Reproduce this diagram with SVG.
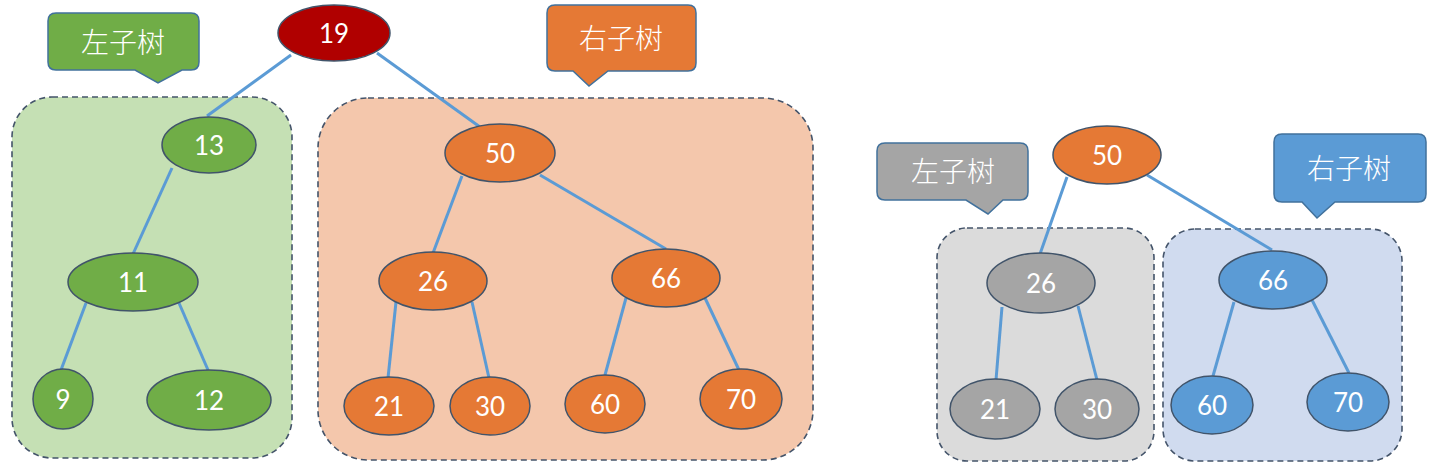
<svg xmlns="http://www.w3.org/2000/svg" width="1437" height="470" viewBox="0 0 1437 470">
<style>
.box{stroke:#44546A;stroke-width:1.6;stroke-dasharray:6 4}
.call{stroke:#41719C;stroke-width:1.5}
.edge{stroke:#5B9BD5;stroke-width:3;fill:none}
.n{stroke:#41546A;stroke-width:1.5}
.g{fill:#70AD47}.o{fill:#E57935}.r{fill:#B00000}.gr{fill:#A5A5A5}.b{fill:#5B9BD5}
.t{font-family:Lato,"Liberation Sans",sans-serif;font-size:26px;fill:#fff;text-anchor:middle;dominant-baseline:central}
.ct{font-family:"Noto Sans CJK SC",sans-serif;font-weight:300;font-size:28px;fill:#fff;text-anchor:middle;dominant-baseline:central}
</style>
<rect width="1437" height="470" fill="#fff"/>
<g id="boxes">
<rect class="box" x="12" y="97" width="280" height="361" rx="40" fill="#C5E0B4"/>
<rect class="box" x="318" y="98" width="495" height="362" rx="50" fill="#F4C7AC"/>
<rect class="box" x="937" y="228" width="217" height="233" rx="30" fill="#DBDBDB"/>
<rect class="box" x="1163" y="229" width="239" height="232" rx="32" fill="#D0DBEF"/>
</g>
<g id="callout-left1">
<path class="call" fill="#70AD47" d="M56,13 H191 Q199,13 199,21 V62 Q199,70 191,70 H182 L158,83 L135,70 H56 Q48,70 48,62 V21 Q48,13 56,13 Z"/>
<text class="ct" x="123" y="41">左子树</text>
</g>
<g id="callout-right1">
<path class="call" fill="#E57935" d="M555,5 H688 Q696,5 696,13 V63 Q696,71 688,71 H608 L589,86 L573,71 H555 Q547,71 547,63 V13 Q547,5 555,5 Z"/>
<text class="ct" x="621" y="37">右子树</text>
</g>
<g id="callout-left2">
<path class="call" fill="#A5A5A5" d="M885,143 H1020 Q1028,143 1028,151 V192 Q1028,200 1020,200 H1003 L988,214 L966,200 H885 Q877,200 877,192 V151 Q877,143 885,143 Z"/>
<text class="ct" x="953" y="170">左子树</text>
</g>
<g id="callout-right2">
<path class="call" fill="#5B9BD5" d="M1282,134 H1418 Q1426,134 1426,142 V194 Q1426,202 1418,202 H1335 L1317,218 L1302,202 H1282 Q1274,202 1274,194 V142 Q1274,134 1282,134 Z"/>
<text class="ct" x="1349" y="167">右子树</text>
</g>
<g id="connectors">
<line class="edge" x1="291" y1="55" x2="207" y2="116"/>
<line class="edge" x1="377" y1="53" x2="480" y2="127"/>
<line class="edge" x1="172" y1="168" x2="133" y2="254"/>
<line class="edge" x1="86" y1="303" x2="61" y2="370"/>
<line class="edge" x1="179" y1="303" x2="208" y2="370"/>
<line class="edge" x1="462" y1="176" x2="433" y2="253"/>
<line class="edge" x1="540" y1="175" x2="666" y2="249"/>
<line class="edge" x1="396" y1="302" x2="388" y2="378"/>
<line class="edge" x1="472" y1="302" x2="489" y2="378"/>
<line class="edge" x1="626" y1="298" x2="605" y2="375"/>
<line class="edge" x1="705" y1="298" x2="739" y2="370"/>
<line class="edge" x1="1067" y1="177" x2="1040" y2="254"/>
<line class="edge" x1="1147" y1="175" x2="1272" y2="250"/>
<line class="edge" x1="1002" y1="307" x2="996" y2="380"/>
<line class="edge" x1="1078" y1="306" x2="1097" y2="380"/>
<line class="edge" x1="1234" y1="302" x2="1213" y2="376"/>
<line class="edge" x1="1312" y1="300" x2="1349" y2="373"/>
</g>
<g id="n19"><ellipse class="n r" cx="334" cy="33" rx="56" ry="28"/><text class="t" x="334" y="33">19</text></g>
<g id="n13"><ellipse class="n g" cx="209" cy="145" rx="47" ry="28"/><text class="t" x="209" y="145">13</text></g>
<g id="n11"><ellipse class="n g" cx="133" cy="282" rx="65" ry="29"/><text class="t" x="133" y="282">11</text></g>
<g id="n9"><ellipse class="n g" cx="63" cy="399" rx="30" ry="30"/><text class="t" x="63" y="399">9</text></g>
<g id="n12"><ellipse class="n g" cx="209" cy="400" rx="62" ry="30"/><text class="t" x="209" y="400">12</text></g>
<g id="n50"><ellipse class="n o" cx="500" cy="153" rx="55" ry="29"/><text class="t" x="500" y="153">50</text></g>
<g id="n26"><ellipse class="n o" cx="433" cy="281" rx="54" ry="29"/><text class="t" x="433" y="281">26</text></g>
<g id="n66"><ellipse class="n o" cx="666" cy="278" rx="54" ry="29"/><text class="t" x="666" y="278">66</text></g>
<g id="n21"><ellipse class="n o" cx="389" cy="406" rx="45" ry="29"/><text class="t" x="389" y="406">21</text></g>
<g id="n30"><ellipse class="n o" cx="490" cy="406" rx="40" ry="29"/><text class="t" x="490" y="406">30</text></g>
<g id="n60"><ellipse class="n o" cx="605" cy="404" rx="40" ry="29"/><text class="t" x="605" y="404">60</text></g>
<g id="n70"><ellipse class="n o" cx="741" cy="399" rx="41" ry="30"/><text class="t" x="741" y="399">70</text></g>
<g id="r50"><ellipse class="n o" cx="1107" cy="155" rx="54" ry="29"/><text class="t" x="1107" y="155">50</text></g>
<g id="r26"><ellipse class="n gr" cx="1041" cy="283" rx="54" ry="30"/><text class="t" x="1041" y="283">26</text></g>
<g id="r21"><ellipse class="n gr" cx="995" cy="409" rx="45" ry="30"/><text class="t" x="995" y="409">21</text></g>
<g id="r30"><ellipse class="n gr" cx="1097" cy="409" rx="42" ry="30"/><text class="t" x="1097" y="409">30</text></g>
<g id="r66"><ellipse class="n b" cx="1273" cy="280" rx="54" ry="29"/><text class="t" x="1273" y="280">66</text></g>
<g id="r60"><ellipse class="n b" cx="1212" cy="405" rx="41" ry="29"/><text class="t" x="1212" y="405">60</text></g>
<g id="r70"><ellipse class="n b" cx="1348" cy="402" rx="41" ry="29"/><text class="t" x="1348" y="402">70</text></g>
</svg>
